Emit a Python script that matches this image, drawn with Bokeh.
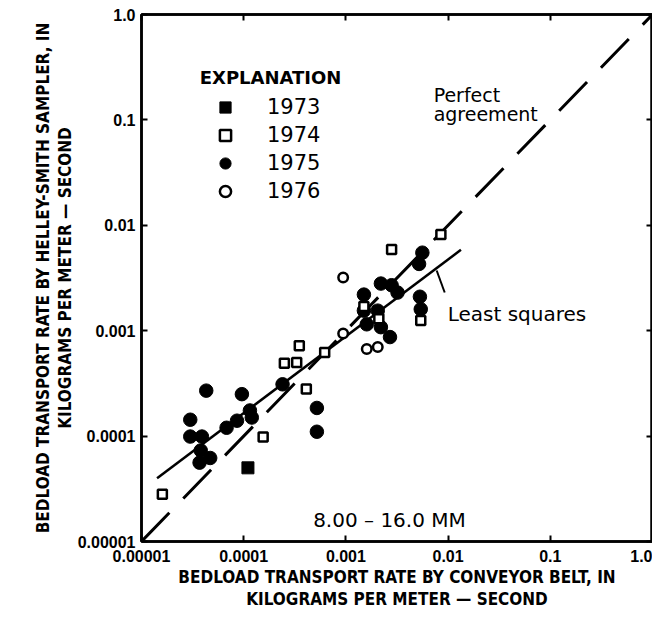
import math
import numpy as np
from bokeh.plotting import figure
from bokeh.models import LogAxis, FixedTicker, Label, Legend, LegendItem, Title
from bokeh.embed import file_html
from bokeh.resources import INLINE

# ---------------- data ----------------
x_1973 = [1.1e-4]
y_1973 = [5.0e-5]

x_1974 = [1.6e-5, 1.55e-4, 2.5e-4, 3.3e-4, 3.5e-4, 4.1e-4, 6.2e-4,
          2.8e-3, 8.5e-3, 1.5e-3, 2.1e-3, 5.4e-3]
y_1974 = [2.8e-5, 9.8e-5, 4.9e-4, 5.0e-4, 7.2e-4, 2.8e-4, 6.2e-4,
          5.9e-3, 8.2e-3, 1.7e-3, 1.3e-3, 1.25e-3]

x_1975 = [3.0e-5, 3.0e-5, 3.9e-5, 4.3e-5, 3.8e-5, 4.7e-5, 3.7e-5, 6.8e-5,
          8.6e-5, 9.6e-5, 1.15e-4, 1.2e-4, 2.4e-4, 5.2e-4, 5.2e-4,
          5.6e-3, 5.2e-3, 2.2e-3, 2.8e-3, 3.2e-3, 1.5e-3, 1.5e-3, 1.6e-3,
          2.05e-3, 2.7e-3, 2.2e-3, 5.3e-3, 5.4e-3]
y_1975 = [1.43e-4, 9.9e-5, 9.9e-5, 2.7e-4, 7.3e-5, 6.2e-5, 5.6e-5, 1.2e-4,
          1.4e-4, 2.5e-4, 1.75e-4, 1.5e-4, 3.1e-4, 1.85e-4, 1.1e-4,
          5.5e-3, 4.3e-3, 2.8e-3, 2.7e-3, 2.3e-3, 2.2e-3, 1.55e-3, 1.15e-3,
          1.55e-3, 8.7e-4, 1.08e-3, 2.1e-3, 1.6e-3]

x_1976 = [9.4e-4, 9.4e-4, 1.6e-3, 2.05e-3]
y_1976 = [3.2e-3, 9.4e-4, 6.7e-4, 7.0e-4]

# least-squares fit: y = coef * x ** expo
ls_coef = 0.136
ls_expo = 0.729
ls_x = [1.42e-5, 1.336e-2]

perfect_x = [1e-5, 1.0]

tick_values = [1e-5, 1e-4, 1e-3, 1e-2, 1e-1, 1.0]
tick_labels = ["0.00001", "0.0001", "0.001", "0.01", "0.1", "1.0"]

x_title = ["BEDLOAD TRANSPORT RATE BY CONVEYOR BELT, IN",
           "KILOGRAMS PER METER \u2014 SECOND"]
y_title = ["BEDLOAD TRANSPORT RATE BY HELLEY-SMITH SAMPLER, IN",
           "KILOGRAMS PER METER \u2014 SECOND"]

TITLE_FONT = "DejaVu Sans Condensed, Liberation Sans Narrow, Liberation Sans"

# ---------------- layout helpers (picture pixels -> data) ----------------
W, H = 652, 608
FL, FT, FBB = 141, 14, 67          # left / top / bottom borders
FR = W - 2                          # right edge of frame (axis takes ~2px)
FB = H - FBB


def sx(px):
    return 10 ** (-5 + 5 * (px - FL) / (FR - FL))


def sy(py):
    return 10 ** (-5 + 5 * (FB - py) / (FB - FT))


# ---------------- figure ----------------
p = figure(width=W, height=H, x_axis_type="log", y_axis_type="log",
           x_range=(1e-5, 1.0), y_range=(1e-5, 1.0),
           min_border_left=FL, min_border_right=0, min_border_top=FT,
           min_border_bottom=FBB, output_backend="svg", toolbar_location=None,
           background_fill_color="white", border_fill_color="white")
p.grid.visible = False
p.outline_line_color = "black"
p.outline_line_width = 2.5

for ax in (p.xaxis[0], p.yaxis[0]):
    ax.ticker = FixedTicker(ticks=tick_values)
    ax.major_label_overrides = dict(zip(tick_values, tick_labels))
    ax.major_tick_in = 6
    ax.major_tick_out = 0
    ax.major_tick_line_width = 2
    ax.minor_tick_line_color = None
    ax.axis_line_width = 2.5
    ax.major_label_text_font = "Liberation Sans"
    ax.major_label_text_font_style = "bold"
    ax.major_label_text_font_size = "16px"
    ax.major_label_text_color = "black"
p.xaxis[0].major_label_standoff = 8
p.yaxis[0].major_label_standoff = 6

for place in ("right", "above"):
    ax = LogAxis(ticker=FixedTicker(ticks=tick_values),
                 major_label_overrides={t: "" for t in tick_values},
                 major_label_text_font_size="2px", major_label_text_alpha=0,
                 major_label_standoff=0,
                 major_tick_in=6, major_tick_out=0, major_tick_line_width=2,
                 minor_tick_line_color=None, axis_line_width=2.5)
    p.add_layout(ax, place)

# axis titles as stacked titles (closest to the frame first)
def title(text, place, offset=0):
    p.add_layout(Title(text=text, align="center", text_font=TITLE_FONT,
                       text_font_style="bold", text_font_size="17px",
                       text_color="black", standoff=0, offset=offset), place)

title(x_title[0], "below")
title(x_title[1], "below")
title(y_title[1], "left", offset=25)
title(y_title[0], "left", offset=-8)

# ---------------- lines ----------------
p.line(perfect_x, perfect_x, line_color="black", line_width=3, line_dash="40 20")
ls_y = [ls_coef * xv ** ls_expo for xv in ls_x]
p.line(ls_x, ls_y, line_color="black", line_width=2.5)

# ---------------- points ----------------
r75 = p.scatter(x_1975, y_1975, marker="circle", size=13.5,
                fill_color="black", line_color="black", line_width=1)
r74 = p.scatter(x_1974, y_1974, marker="square", size=9,
                fill_color="white", line_color="black", line_width=2.5)
r73 = p.scatter(x_1973, y_1973, marker="square", size=12,
                fill_color="black", line_color="black", line_width=1)
r76 = p.scatter(x_1976, y_1976, marker="circle", size=9.5,
                fill_color="white", line_color="black", line_width=2.5)

legend = Legend(items=[LegendItem(label="1973", renderers=[r73]),
                       LegendItem(label="1974", renderers=[r74]),
                       LegendItem(label="1975", renderers=[r75]),
                       LegendItem(label="1976", renderers=[r76])],
                location=(211 - FL, FB - 205), orientation="vertical",
                glyph_width=28, glyph_height=28, label_height=28,
                label_standoff=28, spacing=0, padding=0, margin=0,
                border_line_color=None, background_fill_alpha=0,
                label_text_font="DejaVu Sans", label_text_font_size="21px",
                label_text_color="black")
p.add_layout(legend)

# ---------------- annotations ----------------
def note(px, py, text, size, bold=False, align="left"):
    p.add_layout(Label(x=sx(px), y=sy(py), text=text, text_font="DejaVu Sans",
                       text_font_style="bold" if bold else "normal",
                       text_font_size=size, text_color="black",
                       text_baseline="alphabetic", text_align=align))

note(199, 77, "EXPLANATION", "18px", bold=True)
note(432, 94, "Perfect", "19px")
note(432, 113, "agreement", "19px")
note(446, 313, "Least squares", "20px")
note(388, 519, "8.00 \u2013 16.0 MM", "20px", align="center")

# leader from the least-squares line to its label
p.line([sx(435), sx(443)], [sy(270), sy(292)], line_color="black", line_width=2)

open("out.html", "w").write(file_html(p, INLINE))
